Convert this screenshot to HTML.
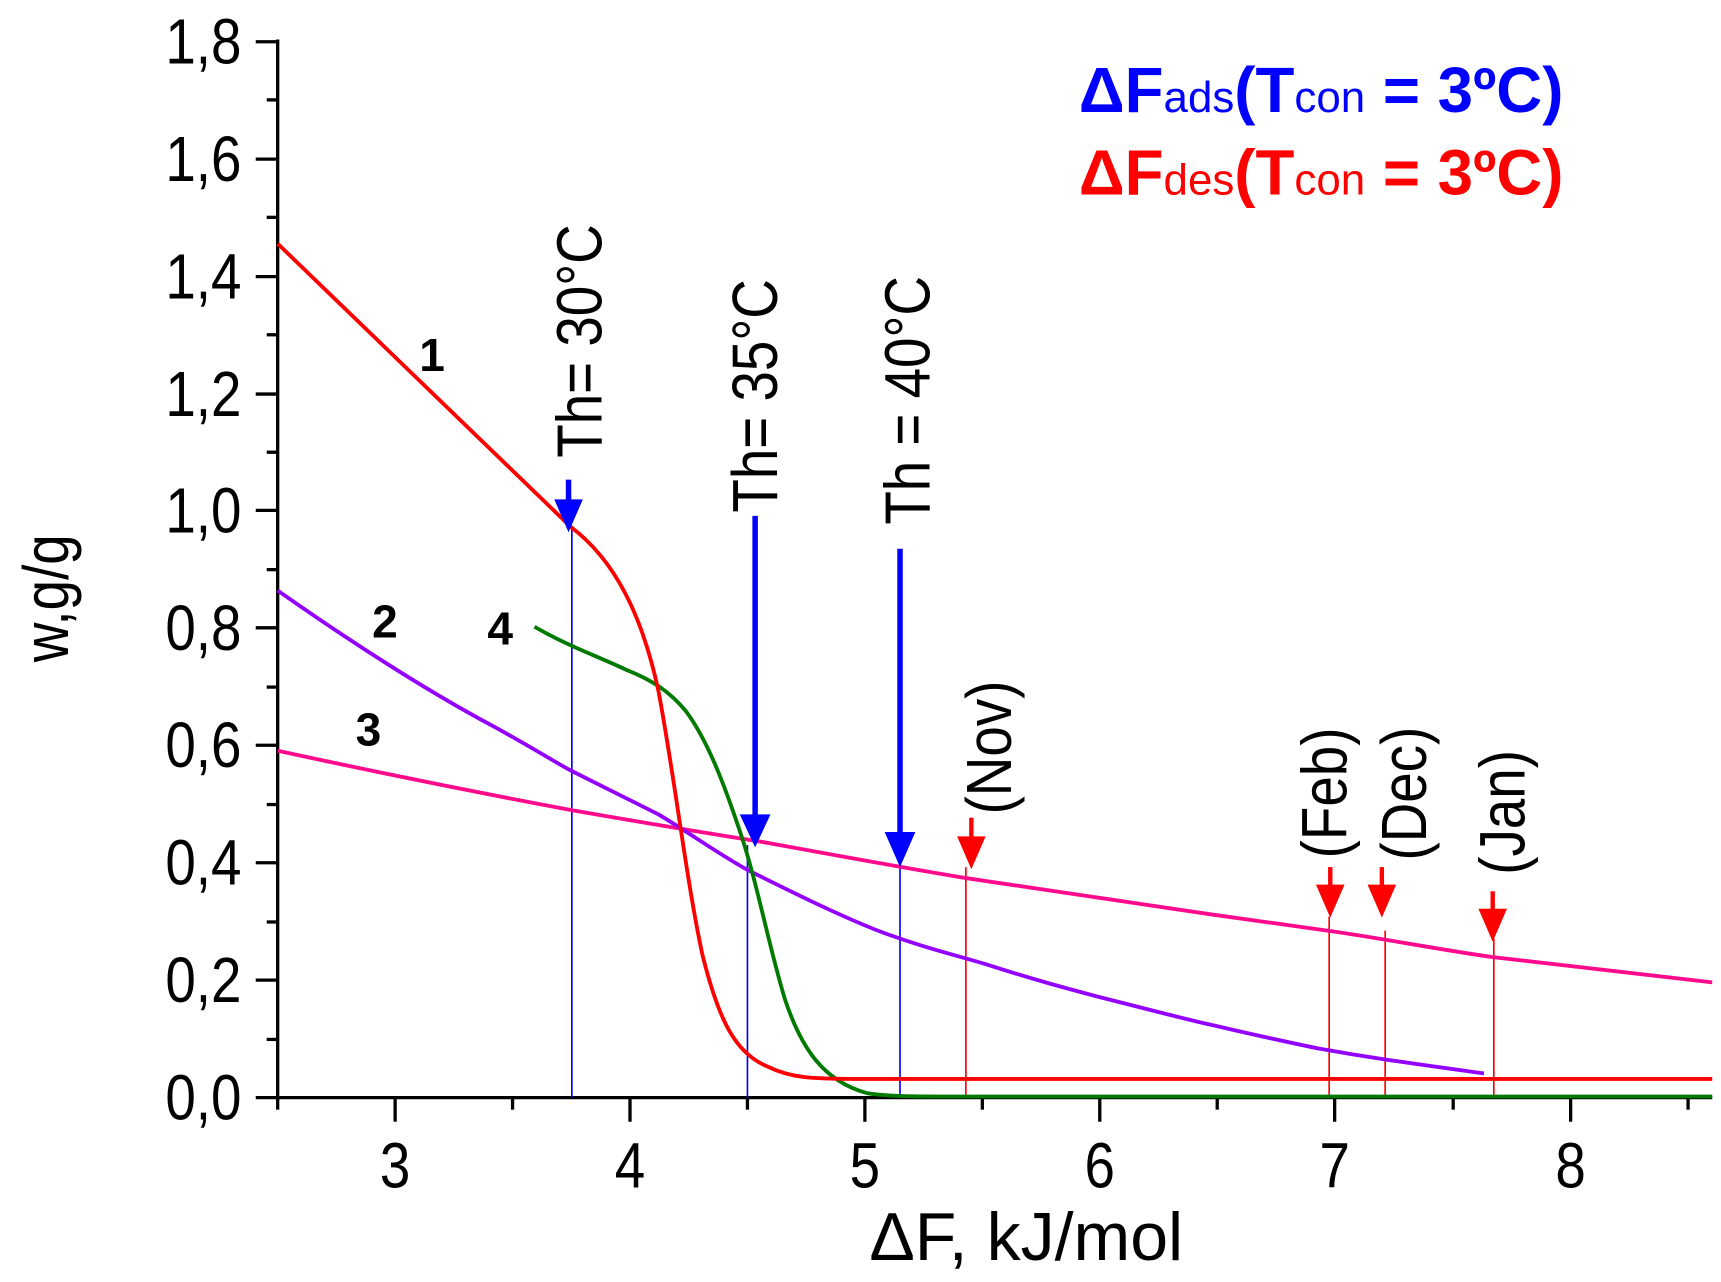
<!DOCTYPE html>
<html><head><style>html,body{margin:0;padding:0;background:#fff}svg{display:block}</style></head>
<body>
<svg width="1721" height="1282" viewBox="0 0 1568 1168" xmlns="http://www.w3.org/2000/svg" font-family="Liberation Sans, sans-serif">
<rect width="1568" height="1168" fill="#fff"/>
<g stroke="#000" stroke-width="3" fill="none">
<line x1="253" y1="36" x2="253" y2="1002"/>
<line x1="251" y1="1000" x2="1560" y2="1000"/>
</g>
<g stroke="#000" stroke-width="3">
<line x1="233" y1="1000" x2="253" y2="1000"/><line x1="243" y1="947" x2="253" y2="947"/>
<line x1="233" y1="893" x2="253" y2="893"/><line x1="243" y1="840" x2="253" y2="840"/>
<line x1="233" y1="786" x2="253" y2="786"/><line x1="243" y1="733" x2="253" y2="733"/>
<line x1="233" y1="679" x2="253" y2="679"/><line x1="243" y1="626" x2="253" y2="626"/>
<line x1="233" y1="572" x2="253" y2="572"/><line x1="243" y1="519" x2="253" y2="519"/>
<line x1="233" y1="465" x2="253" y2="465"/><line x1="243" y1="412" x2="253" y2="412"/>
<line x1="233" y1="359" x2="253" y2="359"/><line x1="243" y1="305" x2="253" y2="305"/>
<line x1="233" y1="252" x2="253" y2="252"/><line x1="243" y1="198" x2="253" y2="198"/>
<line x1="233" y1="145" x2="253" y2="145"/><line x1="243" y1="91" x2="253" y2="91"/>
<line x1="233" y1="38" x2="253" y2="38"/>
<line x1="360" y1="1000" x2="360" y2="1022"/><line x1="574" y1="1000" x2="574" y2="1022"/>
<line x1="788" y1="1000" x2="788" y2="1022"/><line x1="1002" y1="1000" x2="1002" y2="1022"/>
<line x1="1216" y1="1000" x2="1216" y2="1022"/><line x1="1431" y1="1000" x2="1431" y2="1022"/>
<line x1="253" y1="1000" x2="253" y2="1011"/><line x1="467" y1="1000" x2="467" y2="1011"/>
<line x1="681" y1="1000" x2="681" y2="1011"/><line x1="895" y1="1000" x2="895" y2="1011"/>
<line x1="1109" y1="1000" x2="1109" y2="1011"/><line x1="1324" y1="1000" x2="1324" y2="1011"/>
<line x1="1538" y1="1000" x2="1538" y2="1011"/>
</g>
<g font-size="58" text-anchor="end" fill="#000" transform="translate(220,0) scale(0.86,1)">
<text x="0" y="1020">0,0</text><text x="0" y="913">0,2</text><text x="0" y="806">0,4</text>
<text x="0" y="699">0,6</text><text x="0" y="592">0,8</text><text x="0" y="485">1,0</text>
<text x="0" y="379">1,2</text><text x="0" y="272">1,4</text><text x="0" y="165">1,6</text>
<text x="0" y="58">1,8</text>
</g>
<g font-size="58" text-anchor="middle" fill="#000">
<text transform="translate(360,1082) scale(0.86,1)">3</text><text transform="translate(574,1082) scale(0.86,1)">4</text>
<text transform="translate(788,1082) scale(0.86,1)">5</text><text transform="translate(1002,1082) scale(0.86,1)">6</text>
<text transform="translate(1216,1082) scale(0.86,1)">7</text><text transform="translate(1431,1082) scale(0.86,1)">8</text>
<text transform="translate(935,1148)" font-size="62">ΔF, kJ/mol</text>
<text transform="translate(62,545) rotate(-90) scale(0.86,1)">w,g/g</text>
</g>
<g stroke="#00f" stroke-width="1.5"><line x1="521" y1="480" x2="521" y2="1000"/><line x1="681" y1="770" x2="681" y2="1000"/><line x1="820" y1="790" x2="820" y2="1000"/></g>
<g stroke="#f00" stroke-width="1.5"><line x1="880" y1="790" x2="880" y2="1000"/><line x1="1211" y1="835" x2="1211" y2="1000"/><line x1="1262" y1="848" x2="1262" y2="1000"/><line x1="1361" y1="855" x2="1361" y2="1000"/></g>
<g fill="none" stroke-width="3.5" stroke-linejoin="round">
<path stroke="#ff0a8c" d="M253,684 C350,705 440,723 520,738 C600,752 650,760 700,768 C760,779 820,790 880,800 C1000,818 1100,833 1210,848 C1260,855 1310,865 1360,872 C1430,880 1500,888 1560,895"/>
<path stroke="#9400ff" d="M253,538 C320,585 390,630 450,662 C490,684 505,694 520,702 C560,722 570,727 600,742 C630,760 650,775 680,792 C720,812 760,832 800,848 C840,863 870,870 900,879 C940,892 970,900 1000,908 C1040,918 1070,926 1100,933 C1140,942 1170,949 1200,955 C1250,964 1280,968 1352,978"/>
<path stroke="#007a00" d="M487,571 C520,590 545,598 570,610 C595,620 610,630 625,648 C645,675 660,715 675,760 C690,805 700,860 715,910 C730,955 750,985 790,996 C810,999 830,999 860,999 L1560,999"/>
<path stroke="#f00" d="M253,222 L520,480 C560,510 585,560 600,630 C615,710 625,800 640,870 C655,930 670,960 700,972 C720,982 740,983 780,983 L1560,983"/>
</g>
<g stroke="#00f" stroke-width="5">
<line x1="518" y1="437" x2="518" y2="460"/><line x1="688" y1="470" x2="688" y2="745"/><line x1="820" y1="500" x2="820" y2="765"/>
</g>
<g fill="#00f"><polygon points="505,455 531,455 518,485"/><polygon points="674,742 702,742 688,772"/><polygon points="806,758 834,758 820,790"/></g>
<g stroke="#f00" stroke-width="4"><line x1="885" y1="745" x2="885" y2="765"/><line x1="1212" y1="790" x2="1212" y2="810"/><line x1="1259" y1="790" x2="1259" y2="810"/><line x1="1360" y1="812" x2="1360" y2="832"/></g>
<g fill="#f00"><polygon points="872,762 898,762 885,792"/><polygon points="1199,806 1225,806 1212,836"/><polygon points="1246,806 1272,806 1259,836"/><polygon points="1347,828 1373,828 1360,858"/></g>
<g font-size="58" fill="#000">
<text transform="translate(548,417) rotate(-90) scale(0.86,1)">Th= 30°C</text>
<text transform="translate(708,467) rotate(-90) scale(0.86,1)">Th= 35°C</text>
<text transform="translate(847,478) rotate(-90) scale(0.86,1)">Th = 40°C</text>
<text transform="translate(921,742) rotate(-90) scale(0.86,1)">(Nov)</text>
<text transform="translate(1227,782) rotate(-90) scale(0.86,1)">(Feb)</text>
<text transform="translate(1299,784) rotate(-90) scale(0.86,1)">(Dec)</text>
<text transform="translate(1389,797) rotate(-90) scale(0.86,1)">(Jan)</text>
</g>
<g font-size="42" font-weight="bold" fill="#000">
<text x="382" y="338">1</text><text x="339" y="581">2</text><text x="324" y="679">3</text><text x="444" y="587">4</text>
</g>
<text x="983" y="102" font-size="58" fill="#00f" font-weight="bold">ΔF<tspan font-size="40" font-weight="normal">ads</tspan>(T<tspan font-size="40" font-weight="normal">con</tspan> = 3ºC)</text>
<text x="983" y="177" font-size="58" fill="#f00" font-weight="bold">ΔF<tspan font-size="40" font-weight="normal">des</tspan>(T<tspan font-size="40" font-weight="normal">con</tspan> = 3ºC)</text>
</svg>
</body></html>
